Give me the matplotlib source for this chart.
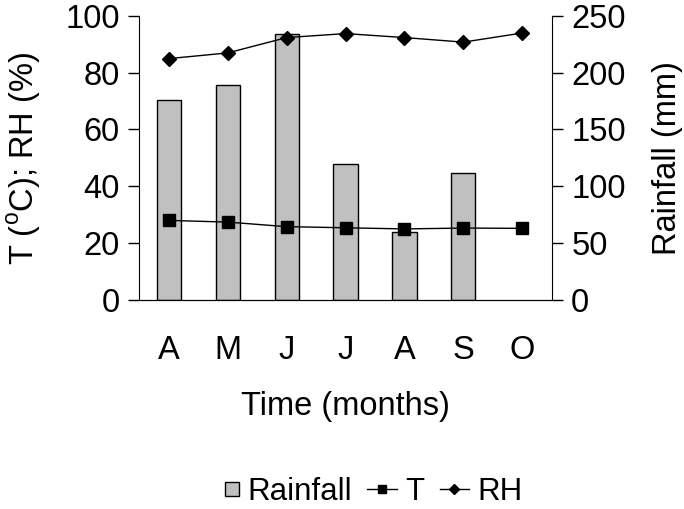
import numpy as np
import matplotlib.pyplot as plt
from matplotlib.patches import Rectangle
from matplotlib.legend_handler import HandlerPatch

plt.rcParams['font.family'] = ['Liberation Sans', 'DejaVu Sans']
plt.rcParams['mathtext.fontset'] = 'custom'
plt.rcParams['mathtext.rm'] = 'Liberation Sans'

months = ['A', 'M', 'J', 'J', 'A', 'S', 'O']
rainfall = [176, 189, 234, 120, 60, 112, 0]
temp = [28.0, 27.4, 25.8, 25.4, 25.0, 25.3, 25.2]
rh = [84.9, 86.9, 92.3, 93.7, 92.3, 90.7, 93.9]

fs = 23.5
bar_color = '#C0C0C0'
x = np.arange(len(months))
rain = np.array(rainfall, dtype=float)
has_rain = rain > 0

fig = plt.figure(figsize=(6.84, 5.09), dpi=100)
ax = fig.add_axes([0.2037, 0.4106, 0.6029, 0.5586])
ax2 = ax.twinx()

ax2.bar(x[has_rain], rain[has_rain], width=0.41, color=bar_color, edgecolor='black',
        linewidth=1)
ax2.set_ylim(0, 250)
ax2.set_yticks([0, 50, 100, 150, 200, 250])
ax2.set_ylabel('Rainfall (mm)', fontsize=fs, labelpad=19)

lt, = ax.plot(x, temp, color='black', lw=1, marker='s', markersize=9)
lr, = ax.plot(x, rh, color='black', lw=1, marker='D', markersize=7)
ax.set_zorder(ax2.get_zorder() + 1)
ax.patch.set_visible(False)

ax.set_xlim(-0.5, 6.5)
ax.set_ylim(0, 100)
ax.set_yticks([0, 20, 40, 60, 80, 100])
ax.set_xticks(x)
ax.set_xticklabels(months)
ax.set_ylabel(r'T ($^{\mathrm{o}}$C); RH (%)', fontsize=fs, labelpad=16)
ax.set_xlabel('Time (months)', fontsize=fs, labelpad=18)

for a in (ax, ax2):
    a.spines['top'].set_visible(False)
    a.tick_params(axis='y', direction='out', length=8, width=1, labelsize=fs, pad=6)
    a.tick_params(axis='x', length=0, labelsize=fs, pad=25)
ax2.spines['left'].set_visible(False)
ax.spines['right'].set_visible(False)


# small square for the rainfall legend entry
def square(legend, orig_handle, xdescent, ydescent, width, height, fontsize):
    s = 10.5
    return Rectangle((-xdescent + width - s, -ydescent + (height - s) / 2), s, s)


rain_handle = Rectangle((0, 0), 1, 1, facecolor=bar_color, edgecolor='black', linewidth=1)
fig.legend([rain_handle, lt, lr], ['Rainfall', 'T', 'RH'], loc='center',
           bbox_to_anchor=(0.535, 1 - 492 / 509),
           ncol=3, frameon=False, fontsize=22.5, handlelength=0.95, handleheight=0.7,
           handletextpad=0.25, columnspacing=0.5, markerscale=0.7,
           handler_map={rain_handle: HandlerPatch(patch_func=square)})

plt.savefig('out.png', dpi=100)
